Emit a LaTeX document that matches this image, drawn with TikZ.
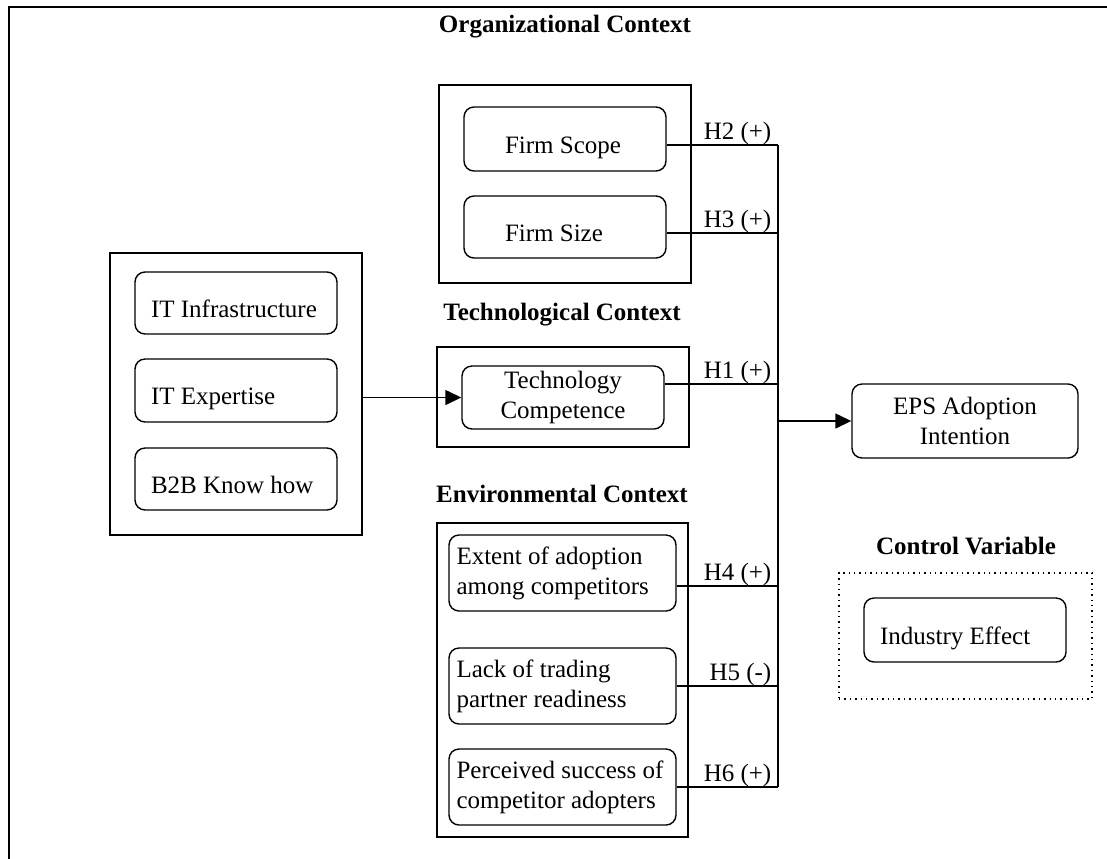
\documentclass[tikz,border=0pt]{standalone}
\usepackage{fontspec}
\setmainfont{Liberation Serif}
\usetikzlibrary{arrows.meta}

\begin{document}
\begin{tikzpicture}[x = 0.5pt, y = -0.5pt, line width = 0.7pt, font = \fontsize{12.5}{15}\selectfont]
        \tikzstyle{frame} = [draw, inner sep = 0pt, minimum width = 126pt]
        \tikzstyle{factor} = [draw, rounded corners = 5pt, inner sep = 0pt, minimum width = 101pt, align = flush center]
        \tikzstyle{lfactor} = [factor, text width = 85pt, inner xsep = 8pt, align = flush left, text height = 17pt, text depth = 3pt]
        \tikzstyle{efactor} = [factor, text width = 106pt, inner xsep = 3.75pt, align = flush left, minimum height = 38pt]
        \tikzstyle{title} = [font = \fontsize{12.5}{15}\selectfont\bfseries]
        \tikzstyle{hyp} = [anchor = base east, inner sep = 3pt, yshift = 3pt]
        \tikzstyle{feed} = [-{Triangle[length = 8pt, width = 7.5pt]}]
        \useasboundingbox (0, 0) rectangle (1107, 858);
        \draw[line width = 1pt] (9, 7) rectangle (1112, 863);
        % context boxes
        \node[frame] (R) at (236, 394) [minimum height = 141pt] {};
        \node[frame] (O) at (565, 184) [minimum height = 99pt] {};
        \node[frame] (T) at (563, 397) [minimum height = 50pt] {};
        \node[frame] (E) at (562.5, 680) [minimum width = 125.5pt, minimum height = 157pt] {};
        \node[frame] (C) at (965.5, 636) [minimum width = 126.5pt, minimum height = 63pt, dotted] {};
        \node[title] (O-t) at (565, 27) {Organizational Context};
        \node[title] (T-t) at (562, 315) {Technological Context};
        \node[title] (E-t) at (562, 494) {Environmental Context};
        \node[title] (C-t) at (966, 546) {Control Variable};
        % factors
        \node[lfactor] (R-1) at (236, 303) [minimum height = 31pt] {IT Infrastructure};
        \node[lfactor] (R-2) at (236, 390.5) [minimum height = 31.5pt] {IT Expertise};
        \node[lfactor] (R-3) at (236, 479) [minimum height = 31pt] {B2B Know how};
        \node[lfactor] (O-1) at (565, 139) [text width = 60pt, inner xsep = 20.5pt, minimum height = 32pt] {Firm Scope};
        \node[lfactor] (O-2) at (565, 227) [text width = 60pt, inner xsep = 20.5pt, minimum height = 31pt] {Firm Size};
        \node[factor] (T-1) at (563, 397.5) [minimum height = 31.5pt] {Technology\\Competence};
        \node[efactor] (E-1) at (562.5, 573) {Extent of adoption\\among competitors};
        \node[efactor] (E-2) at (562.5, 686) {Lack of trading\\partner readiness};
        \node[efactor] (E-3) at (562.5, 787) {Perceived success of\\competitor adopters};
        \node[factor] (Y) at (965, 421) [minimum width = 113pt, minimum height = 37pt] {EPS Adoption\\Intention};
        \node[lfactor] (C-1) at (965, 630) [minimum height = 32pt] {Industry Effect};
        % hypotheses
        \coordinate (h1) at (778, 384);
        \coordinate (h2) at (778, 145);
        \coordinate (h3) at (778, 233);
        \coordinate (h4) at (778, 586);
        \coordinate (h5) at (778, 686);
        \coordinate (h6) at (778, 787);
        \draw[] (h2) -- (h6);
        \draw[] (O-1.east |- h2) -- (h2) node[hyp] {H2 (+)};
        \draw[] (O-2.east |- h3) -- (h3) node[hyp] {H3 (+)};
        \draw[] (T-1.east |- h1) -- (h1) node[hyp] {H1 (+)};
        \draw[] (E-1.east |- h4) -- (h4) node[hyp] {H4 (+)};
        \draw[] (E-2.east |- h5) -- (h5) node[hyp] {H5 (-)};
        \draw[] (E-3.east |- h6) -- (h6) node[hyp] {H6 (+)};
        \draw[feed] (R.east |- T-1.west) -- (T-1.west);
        \draw[feed] (Y.west -| h1) -- (Y.west);
      \end{tikzpicture}
\end{document}
